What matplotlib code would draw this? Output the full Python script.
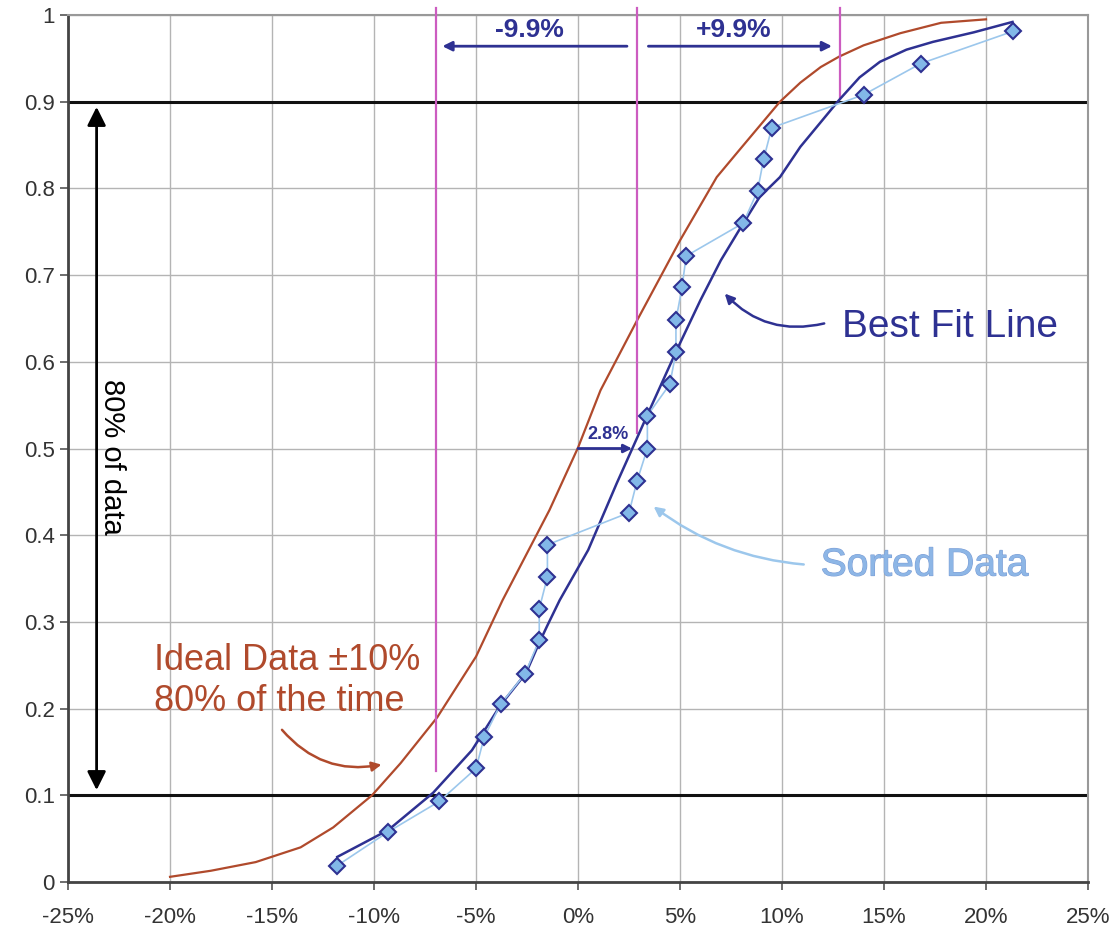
import matplotlib
matplotlib.use("Agg")
import matplotlib.pyplot as plt
import matplotlib.patheffects as pe
from matplotlib.patches import FancyArrowPatch

plt.rcParams['font.family'] = ['Liberation Sans', 'DejaVu Sans']

# Datos ordenados (x en %, y = fraccion acumulada)
sorted_x = [-11.8, -9.3, -6.8, -5.0, -4.6, -3.8, -2.6, -1.9, -1.9, -1.5, -1.5,
            2.5, 2.9, 3.4, 3.4, 4.5, 4.8, 4.8, 5.1, 5.3, 8.1, 8.8, 9.1, 9.5,
            14.0, 16.8, 21.3]
sorted_y = [0.019, 0.058, 0.093, 0.131, 0.167, 0.205, 0.240, 0.279, 0.315,
            0.352, 0.389, 0.426, 0.463, 0.500, 0.538, 0.574, 0.611, 0.648,
            0.686, 0.722, 0.760, 0.797, 0.834, 0.870, 0.908, 0.944, 0.981]

# Linea de mejor ajuste
fit_x = [-11.8, -9.3, -7.1, -5.2, -3.8, -2.55, -1.9, -1.5, -0.9, 0.5, 1.9,
         2.7, 3.5, 4.85, 6.0, 7.0, 7.9, 8.9, 9.9, 10.9, 12.8, 13.8, 14.8,
         16.1, 17.4, 19.4, 21.3]
fit_y = [0.029, 0.060, 0.103, 0.152, 0.204, 0.241, 0.276, 0.296, 0.325,
         0.383, 0.460, 0.502, 0.544, 0.614, 0.671, 0.717, 0.752, 0.790,
         0.813, 0.848, 0.902, 0.928, 0.946, 0.960, 0.969, 0.980, 0.992]

# Datos ideales (+/-10% el 80% del tiempo)
ideal_x = [-20.0, -18.0, -15.8, -13.6, -12.0, -10.1, -8.7, -6.9, -5.0, -3.7,
           -1.4, 0.0, 1.1, 2.9, 5.0, 6.8, 7.9, 9.9, 10.9, 11.9, 12.8, 14.0,
           15.8, 17.8, 20.0]
ideal_y = [0.006, 0.013, 0.023, 0.040, 0.063, 0.100, 0.137, 0.190, 0.260,
           0.325, 0.429, 0.501, 0.567, 0.648, 0.740, 0.813, 0.844, 0.900,
           0.922, 0.940, 0.952, 0.965, 0.979, 0.991, 0.995]

# Lineas verticales de referencia: media -9.9%, media, media +9.9%
vlines_x = [-6.95, 2.9, 12.85]
vlines_bottom = [0.128, 0.518, 0.905]

x_ticks = [-25, -20, -15, -10, -5, 0, 5, 10, 15, 20, 25]
y_ticks = [0, 0.1, 0.2, 0.3, 0.4, 0.5, 0.6, 0.7, 0.8, 0.9, 1.0]
y_labels = ['0', '0.1', '0.2', '0.3', '0.4', '0.5', '0.6', '0.7', '0.8', '0.9', '1']

navy = '#2E3192'
brown = '#B04A2C'
light = '#9CC7EC'
magenta = '#CC5CC0'

fig = plt.figure(figsize=(11.19, 9.31), dpi=100)
ax = fig.add_axes([0.0608, 0.0526, 0.9115, 0.9313])

ax.grid(True, color='#b4b4b4', lw=1)
ax.set_axisbelow(True)

ax.plot(ideal_x, ideal_y, color=brown, lw=1.6, zorder=3)
ax.plot(fit_x, fit_y, color=navy, lw=1.8, zorder=4)
ax.plot(sorted_x, sorted_y, color=light, lw=1.2, marker='D', markersize=8,
        markerfacecolor='#82B8E8', markeredgecolor=navy, markeredgewidth=1.5, zorder=5)

# lineas horizontales 10% y 90%
ax.axhline(0.1, color='#111111', lw=2.2, zorder=2)
ax.axhline(0.9, color='#111111', lw=2.2, zorder=2)

for xv, yb in zip(vlines_x, vlines_bottom):
    ax.plot([xv, xv], [yb, 1.008], color=magenta, lw=1.6, clip_on=False, zorder=3)

# flecha doble 80% de los datos
ax.annotate('', xy=(-23.6, 0.894), xytext=(-23.6, 0.106),
            arrowprops=dict(arrowstyle='<|-|>', color='black', lw=2,
                            mutation_scale=28, shrinkA=0, shrinkB=0))
ax.text(-22.85, 0.49, '80% of data', rotation=270, fontsize=21,
        ha='center', va='center', color='black')

# flechas -9.9% y +9.9%
ax.annotate('', xy=(-6.65, 0.964), xytext=(2.4, 0.964),
            arrowprops=dict(arrowstyle='-|>', color=navy, lw=2,
                            mutation_scale=14, shrinkA=0, shrinkB=0))
ax.annotate('', xy=(12.45, 0.964), xytext=(3.45, 0.964),
            arrowprops=dict(arrowstyle='-|>', color=navy, lw=2,
                            mutation_scale=14, shrinkA=0, shrinkB=0))
ax.text(-2.4, 0.983, '-9.9%', fontsize=19, fontweight='bold', color=navy,
        ha='center', va='center')
ax.text(7.65, 0.983, '+9.9%', fontsize=19, fontweight='bold', color=navy,
        ha='center', va='center')

# flecha 2.8%
ax.annotate('', xy=(2.65, 0.5), xytext=(0.0, 0.5),
            arrowprops=dict(arrowstyle='-|>', color=navy, lw=2,
                            mutation_scale=12, shrinkA=0, shrinkB=0), zorder=6)
ax.text(1.45, 0.516, '2.8%', fontsize=13, fontweight='bold', color=navy,
        ha='center', va='center')

# etiquetas con flechas curvas
ax.text(12.95, 0.640, 'Best Fit Line', fontsize=28, color=navy, ha='left', va='center')
ax.add_patch(FancyArrowPatch((12.2, 0.645), (7.1, 0.681),
                             connectionstyle='arc3,rad=-0.3', arrowstyle='-|>',
                             mutation_scale=14, color=navy, lw=1.8, zorder=6))

ax.text(11.9, 0.365, 'Sorted Data', fontsize=28, color='#8DB6E6', ha='left', va='center',
        path_effects=[pe.withStroke(linewidth=0.8, foreground='#7C9ED6')])
ax.add_patch(FancyArrowPatch((11.2, 0.366), (3.6, 0.435),
                             connectionstyle='arc3,rad=-0.15', arrowstyle='-|>',
                             mutation_scale=14, color=light, lw=1.8, zorder=6))

ax.text(-20.8, 0.232, 'Ideal Data \u00b110%\n80% of the time', fontsize=26, color=brown,
        ha='left', va='center', linespacing=1.25)
ax.add_patch(FancyArrowPatch((-14.6, 0.178), (-9.5, 0.136),
                             connectionstyle='arc3,rad=0.3', arrowstyle='-|>',
                             mutation_scale=14, color=brown, lw=1.8, zorder=6))

ax.set_xlim(-25, 25)
ax.set_ylim(0, 1)
ax.set_xticks(x_ticks)
ax.set_xticklabels(['%d%%' % v for v in x_ticks])
ax.set_yticks(y_ticks)
ax.set_yticklabels(y_labels)
ax.tick_params(labelsize=16, labelcolor='#333333', color='#555555', length=6, width=1.2)
ax.tick_params(axis='x', pad=12)

for s in ['top', 'right']:
    ax.spines[s].set_color('#999999')
    ax.spines[s].set_linewidth(1.5)
for s in ['left', 'bottom']:
    ax.spines[s].set_color('#444444')
    ax.spines[s].set_linewidth(2)

plt.savefig('out.png', dpi=100)
